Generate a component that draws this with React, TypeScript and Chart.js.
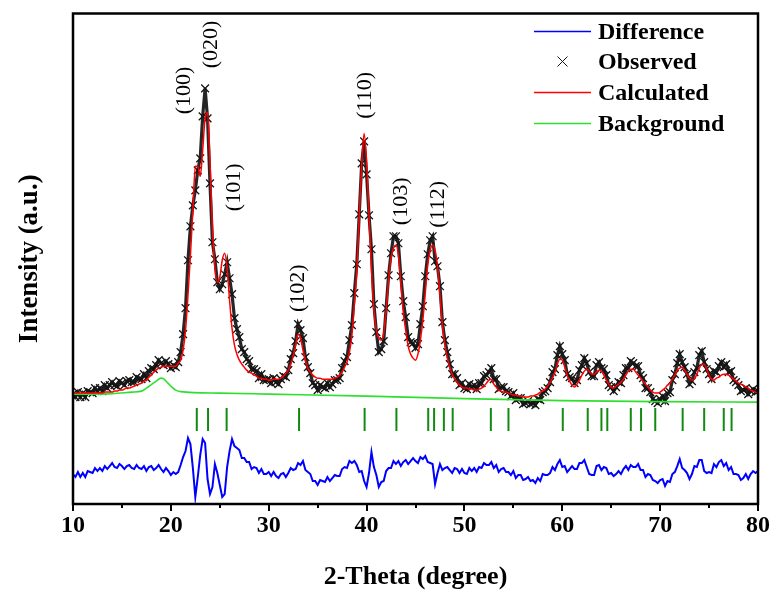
import React, { useEffect, useRef } from "react";
import { Chart, registerables } from "chart.js";

Chart.register(...registerables);

// Powder pattern sampled on a regular 2θ grid: 10° to 80° in 0.25° steps.
const TWO_THETA_START = 10;
const TWO_THETA_STEP = 0.25;

const OBSERVED = [
  110, 107, 112, 107, 111, 107, 113, 112, 111, 116, 113, 116, 113, 119, 116, 119,
  122, 119, 118, 123, 121, 119, 123, 124, 122, 122, 127, 125, 125, 130, 126, 133,
  136, 135, 139, 144, 141, 139, 143, 140, 136, 139, 137, 142, 152, 170, 196, 244,
  278, 299, 314, 334, 346, 388, 416, 386, 321, 262, 245, 222, 215, 220, 230, 242,
  226, 210, 186, 175, 167, 155, 152, 145, 143, 135, 135, 133, 126, 130, 124, 124,
  125, 121, 126, 122, 120, 125, 128, 127, 134, 145, 151, 163, 180, 174, 166, 147,
  137, 131, 121, 119, 114, 119, 117, 116, 121, 117, 120, 124, 124, 126, 136, 143,
  147, 164, 179, 211, 240, 290, 341, 363, 330, 289, 255, 200, 172, 152, 155, 163,
  196, 229, 251, 268, 268, 261, 228, 203, 187, 167, 162, 161, 156, 160, 180, 198,
  228, 250, 264, 268, 243, 238, 218, 182, 164, 152, 140, 130, 130, 126, 119, 121,
  116, 115, 120, 117, 119, 115, 121, 121, 128, 129, 132, 136, 125, 125, 115, 117,
  117, 113, 112, 108, 111, 104, 106, 106, 100, 101, 103, 100, 101, 99, 105, 104,
  112, 113, 116, 122, 132, 135, 149, 158, 150, 144, 130, 127, 126, 121, 124, 134,
  139, 146, 141, 132, 128, 128, 139, 142, 136, 135, 129, 119, 117, 113, 117, 122,
  121, 129, 136, 136, 143, 141, 138, 138, 129, 126, 116, 116, 112, 105, 103, 101,
  105, 108, 103, 111, 112, 124, 130, 141, 150, 142, 137, 130, 120, 123, 132, 136,
  149, 153, 142, 135, 130, 125, 133, 132, 138, 142, 137, 140, 132, 133, 124, 122,
  119, 113, 114, 116, 110, 113, 115, 112, 113,
];

const CALCULATED = [
  111, 111, 111, 111, 111, 111, 111, 111, 111, 111, 111, 111, 111, 112, 112, 112,
  112, 113, 113, 114, 114, 115, 116, 116, 117, 118, 119, 120, 121, 123, 124, 127,
  129, 132, 134, 136, 137, 138, 138, 138, 138, 138, 138, 141, 144, 154, 174, 209,
  249, 294, 338, 338, 328, 354, 386, 392, 342, 276, 236, 222, 227, 244, 251, 236,
  204, 176, 159, 150, 144, 140, 137, 134, 132, 131, 129, 128, 126, 126, 125, 125,
  124, 124, 125, 125, 125, 126, 128, 131, 134, 140, 148, 159, 170, 166, 154, 144,
  136, 132, 129, 127, 126, 126, 125, 125, 125, 125, 125, 126, 127, 129, 132, 137,
  142, 152, 169, 199, 232, 289, 339, 371, 344, 289, 234, 194, 174, 166, 164, 171,
  194, 224, 246, 256, 259, 249, 221, 192, 174, 158, 150, 146, 144, 150, 164, 184,
  211, 239, 254, 259, 254, 238, 209, 179, 159, 146, 137, 130, 125, 122, 119, 117,
  116, 116, 115, 115, 114, 114, 115, 116, 118, 121, 124, 125, 120, 117, 114, 113,
  112, 112, 111, 110, 109, 109, 108, 108, 107, 107, 107, 108, 108, 109, 110, 112,
  113, 115, 118, 122, 126, 132, 140, 145, 144, 137, 129, 123, 119, 117, 120, 124,
  129, 133, 135, 133, 130, 130, 132, 134, 133, 129, 124, 120, 117, 116, 118, 120,
  122, 125, 129, 133, 135, 135, 132, 129, 126, 123, 120, 117, 114, 112, 111, 111,
  112, 114, 116, 119, 121, 125, 129, 134, 136, 137, 134, 130, 126, 124, 125, 130,
  136, 140, 140, 135, 129, 125, 124, 126, 127, 129, 130, 130, 129, 127, 125, 123,
  121, 120, 119, 117, 116, 114, 113, 112, 111,
];

// Observed minus calculated, on the same grid.
const DIFFERENCE = [
  -1, -4, 1, -4, 0, -4, 2, 1, 0, 5, 2, 5, 2, 7, 4, 7,
  10, 6, 5, 9, 7, 4, 7, 8, 5, 4, 8, 5, 4, 7, 2, 6,
  7, 3, 5, 8, 4, 1, 5, 2, -2, 1, -1, 1, 8, 16, 22, 35,
  29, 5, -24, -4, 18, 34, 30, -6, -21, -14, 9, 0, -12, -24, -21, 6,
  22, 34, 27, 25, 23, 15, 15, 11, 11, 4, 6, 5, 0, 4, -1, -1,
  1, -3, 1, -3, -5, -1, 0, -4, 0, 5, 3, 4, 10, 8, 12, 3,
  1, -1, -8, -8, -12, -7, -8, -9, -4, -8, -5, -2, -3, -3, 4, 6,
  5, 12, 10, 12, 8, 1, 2, -8, -14, 0, 21, 6, -2, -14, -9, -8,
  2, 5, 5, 12, 9, 12, 7, 11, 13, 9, 12, 15, 12, 10, 16, 14,
  17, 11, 10, 9, -11, 0, 9, 3, 5, 6, 3, 0, 5, 4, 0, 4,
  0, -1, 5, 2, 5, 1, 6, 5, 10, 8, 8, 11, 5, 8, 1, 4,
  5, 1, 1, -2, 2, -5, -2, -2, -7, -6, -4, -8, -7, -10, -5, -8,
  -1, -2, -2, 0, 6, 3, 9, 13, 6, 7, 1, 4, 7, 4, 4, 10,
  10, 13, 6, -1, -2, -2, 7, 8, 3, 6, 5, -1, 0, -3, -1, 2,
  -1, 4, 7, 3, 8, 6, 6, 9, 3, 3, -4, -1, -2, -7, -8, -10,
  -7, -6, -13, -8, -9, -1, 1, 7, 14, 5, 3, 0, -6, -1, 7, 6,
  13, 13, 2, 0, 1, 0, 9, 6, 11, 13, 7, 10, 3, 6, -1, -1,
  -2, -7, -5, -1, -6, -1, 2, 0, 2,
];

const BACKGROUND_TWO_THETA = [10, 12, 14, 16, 17, 17.5, 18, 18.5, 19, 19.3, 19.7, 20.1, 20.5, 21, 25, 30, 40, 50, 60, 70, 80];
const BACKGROUND = [110, 110, 110.5, 112, 113, 116, 119.5, 123, 126, 125, 121, 117, 114, 112.5, 111, 110, 108, 105.5, 103.5, 102.5, 102];

const BRAGG_POSITIONS = [
  22.65, 23.8, 25.7, 33.1, 39.8, 43.05, 46.3, 46.9, 47.9, 48.8, 52.7, 54.5,
  60.05, 62.6, 64.0, 64.6, 67.0, 68.05, 69.5, 72.3, 74.5, 76.5, 77.3,
];

const PEAK_HKL = ["(100)", "(020)", "(101)", "(102)", "(110)", "(103)", "(112)"];
const PEAK_LABEL_TWO_THETA = [21.38, 24.09, 26.46, 33.06, 39.84, 43.5, 47.29];
const PEAK_LABEL_HEIGHT = [414, 460, 317, 216, 409, 303, 300];

const X_TICKS = [10, 20, 30, 40, 50, 60, 70, 80];
const X_MINOR_TICKS = [15, 25, 35, 45, 55, 65, 75];

const LEGEND_LABELS = ["Difference", "Observed", "Calculated", "Background"];

// Levels (intensity units) where the difference curve and the reflection markers sit.
const DIFF_ZERO = 31;
const BRAGG_LEVEL = 84.5;

const SERIF = "'Liberation Serif', 'Times New Roman', serif";
const COLORS = {
  observed: "#151515",
  observedTrace: "#262626",
  calculated: "#ff0000",
  background: "#2ee02e",
  difference: "#0000ff",
  bragg: "#128a12",
};

const twoTheta = (i: number) => TWO_THETA_START + i * TWO_THETA_STEP;

const decorations = {
  id: "decorations",
  afterDraw(chart: any) {
    const { ctx, chartArea: a, scales } = chart;
    const xs = scales.x;
    const ys = scales.y;
    ctx.save();

    // frame
    ctx.strokeStyle = "#000";
    ctx.lineWidth = 2.5;
    ctx.strokeRect(a.left, a.top, a.right - a.left, a.bottom - a.top);

    // outward tick marks on the 2θ axis
    ctx.lineWidth = 2;
    const tick = (v: number, len: number) => {
      const px = Math.round(xs.getPixelForValue(v));
      ctx.beginPath();
      ctx.moveTo(px, a.bottom);
      ctx.lineTo(px, a.bottom + len);
      ctx.stroke();
    };
    X_TICKS.forEach((v) => tick(v, 7));
    X_MINOR_TICKS.forEach((v) => tick(v, 4));

    // Miller indices above the reflections
    ctx.fillStyle = "#000";
    ctx.font = `22px ${SERIF}`;
    ctx.textAlign = "center";
    ctx.textBaseline = "middle";
    PEAK_HKL.forEach((label, i) => {
      const px = xs.getPixelForValue(PEAK_LABEL_TWO_THETA[i]);
      const py = ys.getPixelForValue(PEAK_LABEL_HEIGHT[i]);
      ctx.save();
      ctx.translate(px, py);
      ctx.rotate(-Math.PI / 2);
      ctx.fillText(label, 0, 0);
      ctx.restore();
    });

    // legend
    const lineX0 = a.right - 224;
    const lineX1 = a.right - 167;
    const textX = a.right - 160;
    const rowY = [a.top + 18, a.top + 48, a.top + 79, a.top + 110];
    const swatch = [COLORS.difference, null, COLORS.calculated, COLORS.background];
    rowY.forEach((yy, i) => {
      const c = swatch[i];
      if (c) {
        ctx.strokeStyle = c;
        ctx.lineWidth = 1.5;
        ctx.beginPath();
        ctx.moveTo(lineX0, yy);
        ctx.lineTo(lineX1, yy);
        ctx.stroke();
      } else {
        const cx = (lineX0 + lineX1) / 2;
        ctx.strokeStyle = COLORS.observed;
        ctx.lineWidth = 1;
        ctx.beginPath();
        ctx.moveTo(cx - 5, yy - 5);
        ctx.lineTo(cx + 5, yy + 5);
        ctx.moveTo(cx + 5, yy - 5);
        ctx.lineTo(cx - 5, yy + 5);
        ctx.stroke();
      }
    });
    ctx.fillStyle = "#000";
    ctx.font = `bold 24px ${SERIF}`;
    ctx.textAlign = "left";
    ctx.textBaseline = "middle";
    LEGEND_LABELS.forEach((t, i) => ctx.fillText(t, textX, rowY[i] + 1));

    // axis titles
    ctx.font = `bold 26px ${SERIF}`;
    ctx.textAlign = "center";
    ctx.textBaseline = "middle";
    ctx.fillText("2-Theta (degree)", (a.left + a.right) / 2, 577);
    ctx.save();
    ctx.font = `bold 27px ${SERIF}`;
    ctx.translate(30, (a.top + a.bottom) / 2);
    ctx.rotate(-Math.PI / 2);
    ctx.fillText("Intensity (a.u.)", 0, 0);
    ctx.restore();

    ctx.restore();
  },
};

export default function App() {
  const canvasRef = useRef<HTMLCanvasElement | null>(null);

  useEffect(() => {
    const canvas = canvasRef.current;
    if (!canvas) return;

    const observed = OBSERVED.map((v, i) => ({ x: twoTheta(i), y: v }));
    const calculated = CALCULATED.map((v, i) => ({ x: twoTheta(i), y: v }));
    const difference = DIFFERENCE.map((v, i) => ({ x: twoTheta(i), y: DIFF_ZERO + v }));
    const background = BACKGROUND.map((v, i) => ({ x: BACKGROUND_TWO_THETA[i], y: v }));
    const bragg = BRAGG_POSITIONS.map((p) => ({ x: p, y: BRAGG_LEVEL }));

    const chart = new Chart(canvas, {
      type: "line",
      data: {
        datasets: [
          {
            label: "Calculated",
            data: calculated,
            borderColor: COLORS.calculated,
            borderWidth: 1.5,
            pointRadius: 0,
            cubicInterpolationMode: "monotone",
            order: 1,
          },
          {
            label: "Background",
            data: background,
            borderColor: COLORS.background,
            borderWidth: 1.6,
            pointRadius: 0,
            cubicInterpolationMode: "monotone",
            order: 2,
          },
          {
            label: "Observed",
            data: observed,
            borderColor: COLORS.observedTrace,
            borderWidth: 3.2,
            pointStyle: "crossRot",
            pointRadius: 5.5,
            pointBorderWidth: 1.3,
            pointBorderColor: COLORS.observed,
            order: 3,
          },
          {
            label: "Difference",
            data: difference,
            borderColor: COLORS.difference,
            borderWidth: 2,
            pointRadius: 0,
            order: 4,
          },
          {
            label: "Bragg positions",
            data: bragg,
            showLine: false,
            pointStyle: "line",
            rotation: 90,
            pointRadius: 11.5,
            pointBorderWidth: 2,
            pointBorderColor: COLORS.bragg,
            borderColor: COLORS.bragg,
            order: 5,
          },
        ] as any,
      },
      options: {
        animation: false,
        responsive: false,
        events: [],
        layout: { padding: { left: 73, right: 15, top: 13, bottom: 0 } },
        plugins: {
          legend: { display: false },
          tooltip: { enabled: false },
        },
        scales: {
          x: {
            type: "linear",
            min: 10,
            max: 80,
            afterBuildTicks: (s: any) => {
              s.ticks = X_TICKS.map((v) => ({ value: v }));
            },
            afterFit: (s: any) => {
              s.height = 91;
            },
            grid: { display: false, drawTicks: false },
            border: { display: false },
            ticks: {
              color: "#000",
              padding: 7,
              maxRotation: 0,
              autoSkip: false,
              font: { family: SERIF, size: 24, weight: "bold" },
            },
          },
          y: {
            type: "linear",
            display: false,
            min: 0,
            max: 491,
          },
        },
      } as any,
      plugins: [decorations],
    });

    return () => chart.destroy();
  }, []);

  return (
    <div style={{ position: "fixed", left: 0, top: 0, width: 777, height: 595, background: "#fff" }}>
      <canvas ref={canvasRef} width={777} height={595} style={{ display: "block" }} />
    </div>
  );
}
